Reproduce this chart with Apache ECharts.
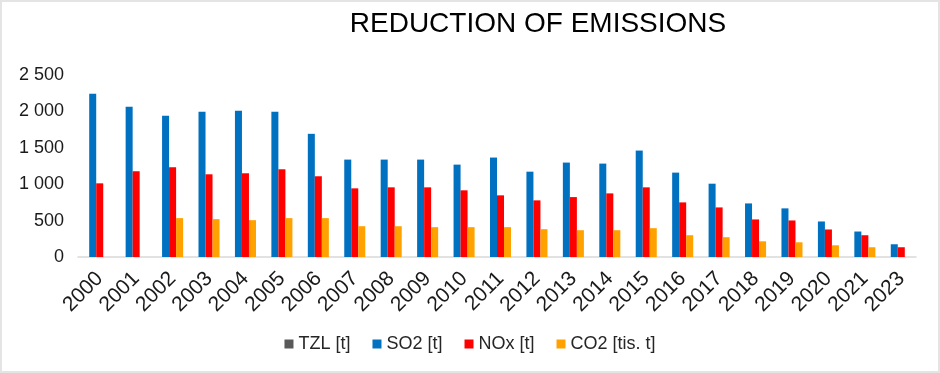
<!DOCTYPE html>
<html>
<head>
<meta charset="utf-8">
<script src="https://cdn.jsdelivr.net/npm/echarts@6/dist/echarts.min.js"></script>
<style>
  html, body { margin: 0; padding: 0; background: #fff; }
  #chart {
    width: 940px;
    height: 373px;
    box-sizing: border-box;
    border: 2px solid #e4e4e4;
  }
</style>
</head>
<body>
<div id="chart"></div>
<script>
  // values
  let years = ['2000', '2001', '2002', '2003', '2004', '2005', '2006', '2007', '2008', '2009', '2010', '2011', '2012', '2013', '2014', '2015', '2016', '2017', '2018', '2019', '2020', '2021', '2023'];
  let tzl = [0, 0, 0, 0, 0, 0, 0, 0, 0, 0, 0, 0, 0, 0, 0, 0, 0, 0, 0, 0, 0, 0, 0];
  let so2 = [2244, 2065, 1941, 1996, 2010, 1996, 1692, 1338, 1338, 1338, 1269, 1366, 1172, 1297, 1283, 1462, 1159, 1007, 736, 668, 488, 350, 175];
  let nox = [1012, 1178, 1233, 1136, 1150, 1205, 1109, 943, 957, 957, 916, 847, 778, 823, 874, 957, 750, 681, 516, 502, 378, 299, 134];
  let co2 = [null, null, 534, 520, 506, 534, 534, 423, 423, 410, 410, 410, 382, 368, 368, 396, 299, 272, 216, 202, 161, 134, null];

  let chart = echarts.init(document.getElementById('chart'));
  let font = 'Liberation Sans, Arial, sans-serif';

  function fmt(v) {
    // "2 500" style thousands separator
    return String(v).replace(/\B(?=(\d{3})+(?!\d))/g, ' ');
  }

  let option = {
    animation: false,
    title: {
      text: 'REDUCTION OF EMISSIONS',
      left: 531,
      textAlign: 'center',
      top: 3,
      textStyle: { fontFamily: font, fontSize: 28, fontWeight: 'normal', color: '#000' }
    },
    legend: {
      data: ['TZL [t]', 'SO2 [t]', 'NOx [t]', 'CO2 [tis. t]'],
      left: 'center',
      top: 328,
      itemWidth: 9,
      itemHeight: 9,
      itemGap: 22,
      icon: 'rect',
      textStyle: { fontFamily: font, fontSize: 18, color: '#262626' }
    },
    grid: {
      left: 76,
      right: 22,
      top: 73,
      bottom: 114
    },
    xAxis: {
      type: 'category',
      data: years,
      axisTick: { show: false },
      axisLine: { lineStyle: { color: '#d9d9d9', width: 1.5 } },
      axisLabel: {
        rotate: 45,
        interval: 0,
        margin: 22,
        padding: [0, -5, 0, 0],
        fontFamily: font,
        fontSize: 21,
        color: '#1a1a1a'
      }
    },
    yAxis: {
      type: 'value',
      min: 0,
      max: 2500,
      interval: 500,
      axisLine: { show: false },
      axisTick: { show: false },
      splitLine: { show: false },
      axisLabel: {
        margin: 14,
        fontFamily: font,
        fontSize: 18,
        color: '#1a1a1a',
        formatter: fmt
      }
    },
    series: [
      { name: 'TZL [t]', type: 'bar', data: tzl, barGap: '0%', barCategoryGap: '23%', itemStyle: { color: '#595959' } },
      { name: 'SO2 [t]', type: 'bar', data: so2, barGap: '0%', barCategoryGap: '23%', itemStyle: { color: '#0070c0' } },
      { name: 'NOx [t]', type: 'bar', data: nox, barGap: '0%', barCategoryGap: '23%', itemStyle: { color: '#ff0000' } },
      { name: 'CO2 [tis. t]', type: 'bar', data: co2, barGap: '0%', barCategoryGap: '23%', itemStyle: { color: '#ffa200' } }
    ]
  };
  chart.setOption(option);
</script>
</body>
</html>
